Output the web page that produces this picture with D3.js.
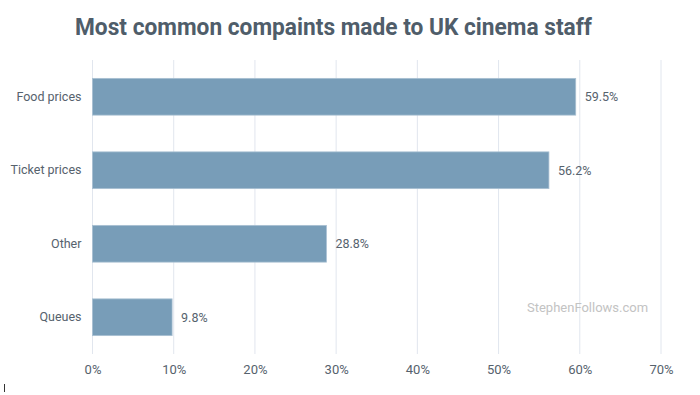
<!DOCTYPE html>
<html>
<head>
<meta charset="utf-8">
<script src="https://d3js.org/d3.v7.min.js"></script>
<style>
  body { margin: 0; background: #fff; }
  svg { display: block; font-family: Roboto, "Noto Sans", sans-serif; }
</style>
</head>
<body>
<div id="chart"></div>
<script>
// Most common complaints made to UK cinema staff
const categories = ["Food prices", "Ticket prices", "Other", "Queues"];
const values = [59.5, 56.2, 28.8, 9.8];
const tickValues = [0, 10, 20, 30, 40, 50, 60, 70];

const width = 700;
const height = 395;
const margin = { top: 60, right: 39, bottom: 41, left: 92.5 };

const svg = d3.select("#chart")
  .append("svg")
  .attr("width", width)
  .attr("height", height);

const x = d3.scaleLinear()
  .domain([0, 70])
  .range([margin.left, width - margin.right]);

const y = d3.scaleBand()
  .domain(categories)
  .range([margin.top, height - margin.bottom])
  .paddingInner(0.5)
  .paddingOuter(0.25);

// title
svg.append("text")
  .attr("x", 333.5)
  .attr("y", 35)
  .attr("text-anchor", "middle")
  .attr("fill", "#4f5d6a")
  .attr("font-size", 23)
  .attr("font-weight", "bold")
  .attr("textLength", 517)
  .attr("lengthAdjust", "spacingAndGlyphs")
  .text("Most common compaints made to UK cinema staff");

// gridlines
svg.append("g")
  .selectAll("line")
  .data(tickValues)
  .join("line")
  .attr("x1", d => x(d))
  .attr("x2", d => x(d))
  .attr("y1", margin.top)
  .attr("y2", height - margin.bottom)
  .attr("stroke", "#e1e6ee")
  .attr("stroke-width", 1);

// x axis labels
const xAxis = svg.append("g")
  .attr("transform", `translate(0,${height - margin.bottom})`)
  .call(d3.axisBottom(x).tickValues(tickValues).tickFormat(d => d + "%").tickSize(0).tickPadding(11));
xAxis.select(".domain").remove();
xAxis.selectAll("text")
  .attr("fill", "#56626d")
  .attr("font-size", 13)
  .attr("font-family", "Roboto, sans-serif");

// y axis labels
const yAxis = svg.append("g")
  .attr("transform", `translate(${margin.left},0)`)
  .call(d3.axisLeft(y).tickSize(0).tickPadding(11));
yAxis.select(".domain").remove();
yAxis.selectAll("text")
  .attr("fill", "#56626d")
  .attr("font-size", 12.5)
  .attr("font-family", "Roboto, sans-serif");

// bars
svg.append("g")
  .selectAll("rect")
  .data(categories)
  .join("rect")
  .attr("x", x(0))
  .attr("y", d => y(d))
  .attr("width", (d, i) => x(values[i]) - x(0))
  .attr("height", y.bandwidth())
  .attr("fill", "#789db8")
  .attr("stroke", "#a9c0d2")
  .attr("stroke-width", 0.8);

// value labels
svg.append("g")
  .selectAll("text")
  .data(categories)
  .join("text")
  .attr("x", (d, i) => x(values[i]) + 9)
  .attr("y", d => y(d) + y.bandwidth() / 2)
  .attr("dy", "0.35em")
  .attr("fill", "#56626d")
  .attr("font-size", 12.5)
  .text((d, i) => values[i] + "%");

// watermark
svg.append("text")
  .attr("x", 527)
  .attr("y", 312)
  .attr("fill", "#c3c3c3")
  .attr("font-size", 13)
  .text("StephenFollows.com");

// stray mark bottom-left
svg.append("line")
  .attr("x1", 4.5).attr("x2", 4.5)
  .attr("y1", 384).attr("y2", 392)
  .attr("stroke", "#333")
  .attr("stroke-width", 1);
</script>
</body>
</html>
